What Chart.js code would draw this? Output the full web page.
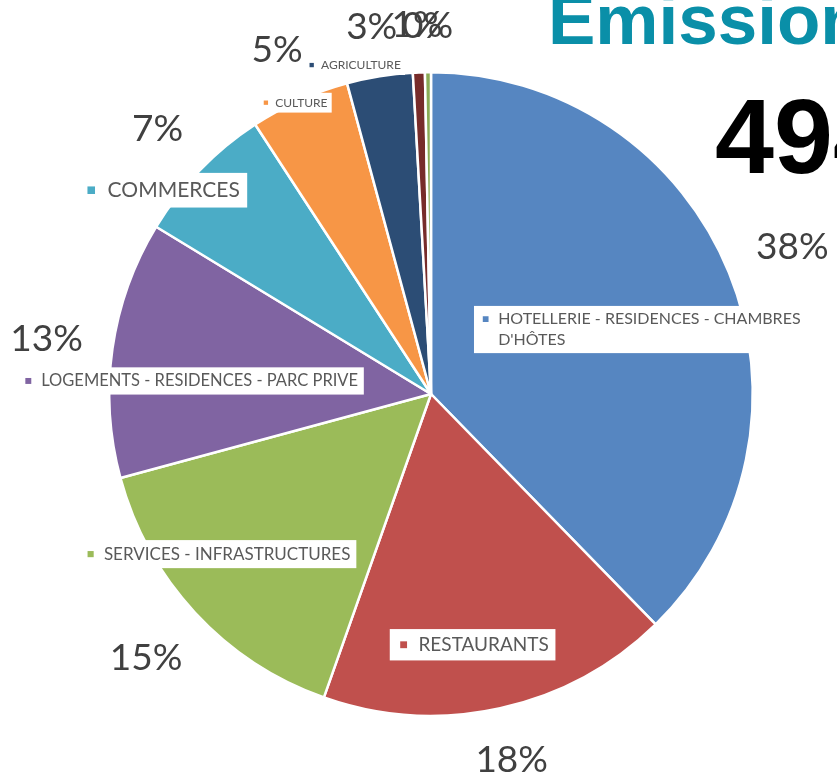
<!DOCTYPE html>
<html>
<head>
<meta charset="utf-8">
<script src="https://cdn.jsdelivr.net/npm/chart.js@4.4.1/dist/chart.umd.min.js"></script>
<style>
  html, body { margin: 0; padding: 0; background: #fff; overflow: hidden; }
  #chart { display: block; }
</style>
</head>
<body>
<canvas id="chart" width="837" height="774"></canvas>
<script>
// slices, clockwise from 12 o'clock
const categories = [
  ["HOTELLERIE - RESIDENCES - CHAMBRES", "D'HÔTES"],
  ["RESTAURANTS"],
  ["SERVICES - INFRASTRUCTURES"],
  ["LOGEMENTS - RESIDENCES - PARC PRIVE"],
  ["COMMERCES"],
  ["CULTURE"],
  ["AGRICULTURE"],
  [],
  [],
];
const shares = [37.7, 17.7, 15.4, 12.9, 7.1, 5.0, 3.3, 0.6, 0.3];
const sliceColors = ["#5686c1", "#c0504d", "#9bbb59", "#8064a2", "#4bacc6", "#f79646", "#2c4d75", "#772c2a", "#8aab55"];

// where the category callouts sit (degrees off the slice middle, fraction of radius, font px)
const calloutTurn = [5, 3, 6, -5, -7, -1, -4, 0, 0];
const calloutRadius = [0.68, 0.79, 0.83, 0.75, 1.05, 1.0, 1.05, 0, 0];
const calloutSize = [16, 19, 17, 16.5, 21, 12, 12, 0, 0];

const titleText = "Emissions";
const totalText = "494";

const labelsPlugin = {
  id: "sliceLabels",
  afterDatasetsDraw(chart) {
    const ctx = chart.ctx;
    const arcs = chart.getDatasetMeta(0).data;
    const total = shares.reduce((a, b) => a + b, 0);
    ctx.save();
    ctx.textBaseline = "middle";

    // category callout boxes
    arcs.forEach((arc, i) => {
      const lines = categories[i];
      if (!lines.length) return;
      const { x, y, startAngle, endAngle, outerRadius } =
        arc.getProps(["x", "y", "startAngle", "endAngle", "outerRadius"], true);
      const fs = calloutSize[i];
      const a = (startAngle + endAngle) / 2 + (calloutTurn[i] * Math.PI) / 180;
      const cr = outerRadius * calloutRadius[i];
      const cx = x + Math.cos(a) * cr;
      const cy = y + Math.sin(a) * cr;
      ctx.font = fs + "px Lato";
      const textW = Math.max(...lines.map((l) => ctx.measureText(l).width));
      const padL = fs * 0.55, mark = fs * 0.36, gap = fs * 0.6, padR = fs * 0.35;
      const lineH = fs * 1.3;
      const boxW = padL + mark + gap + textW + padR;
      const boxH = lineH * lines.length + fs * 0.35;
      const bx = cx - boxW / 2;
      const by = cy - boxH / 2;
      ctx.fillStyle = "#ffffff";
      ctx.fillRect(bx, by, boxW, boxH);
      const firstY = by + fs * 0.175 + lineH / 2;
      ctx.fillStyle = sliceColors[i];
      ctx.fillRect(bx + padL, firstY - mark / 2, mark, mark);
      ctx.fillStyle = "#595959";
      ctx.textAlign = "left";
      lines.forEach((l, k) => ctx.fillText(l, bx + padL + mark + gap, firstY + k * lineH));
    });

    // percentages just outside the rim
    ctx.font = "37px Lato";
    ctx.fillStyle = "#404040";
    ctx.textAlign = "center";
    arcs.forEach((arc, i) => {
      const { x, y, startAngle, endAngle, outerRadius } =
        arc.getProps(["x", "y", "startAngle", "endAngle", "outerRadius"], true);
      const mid = (startAngle + endAngle) / 2;
      const txt = Math.round((shares[i] / total) * 100) + "%";
      const w = ctx.measureText(txt).width;
      const dx = Math.cos(mid), dy = Math.sin(mid);
      const d = outerRadius + 28 + (w / 2) * Math.abs(dx) + 18 * Math.abs(dy);
      ctx.fillText(txt, x + dx * d, y + dy * d);
    });

    // headline text at the top right
    ctx.textAlign = "left";
    ctx.textBaseline = "alphabetic";
    ctx.fillStyle = "#0a8fa8";
    ctx.font = "bold 71px 'Liberation Sans', Arial";
    ctx.fillText(titleText, 548, 44);
    ctx.fillStyle = "#000000";
    ctx.font = "bold 106px 'Liberation Sans', Arial";
    ctx.fillText(totalText, 715, 173);
    ctx.restore();
  },
};

new Chart(document.getElementById("chart"), {
  type: "pie",
  data: {
    labels: categories.map((c) => c.join(" ")),
    datasets: [
      {
        data: shares,
        backgroundColor: sliceColors,
        borderColor: "#ffffff",
        borderWidth: 2.5,
      },
    ],
  },
  options: {
    responsive: false,
    animation: false,
    layout: { padding: { left: 108, right: 83, top: 71, bottom: 57 } },
    plugins: { legend: { display: false }, tooltip: { enabled: false } },
  },
  plugins: [labelsPlugin],
});
</script>
</body>
</html>
